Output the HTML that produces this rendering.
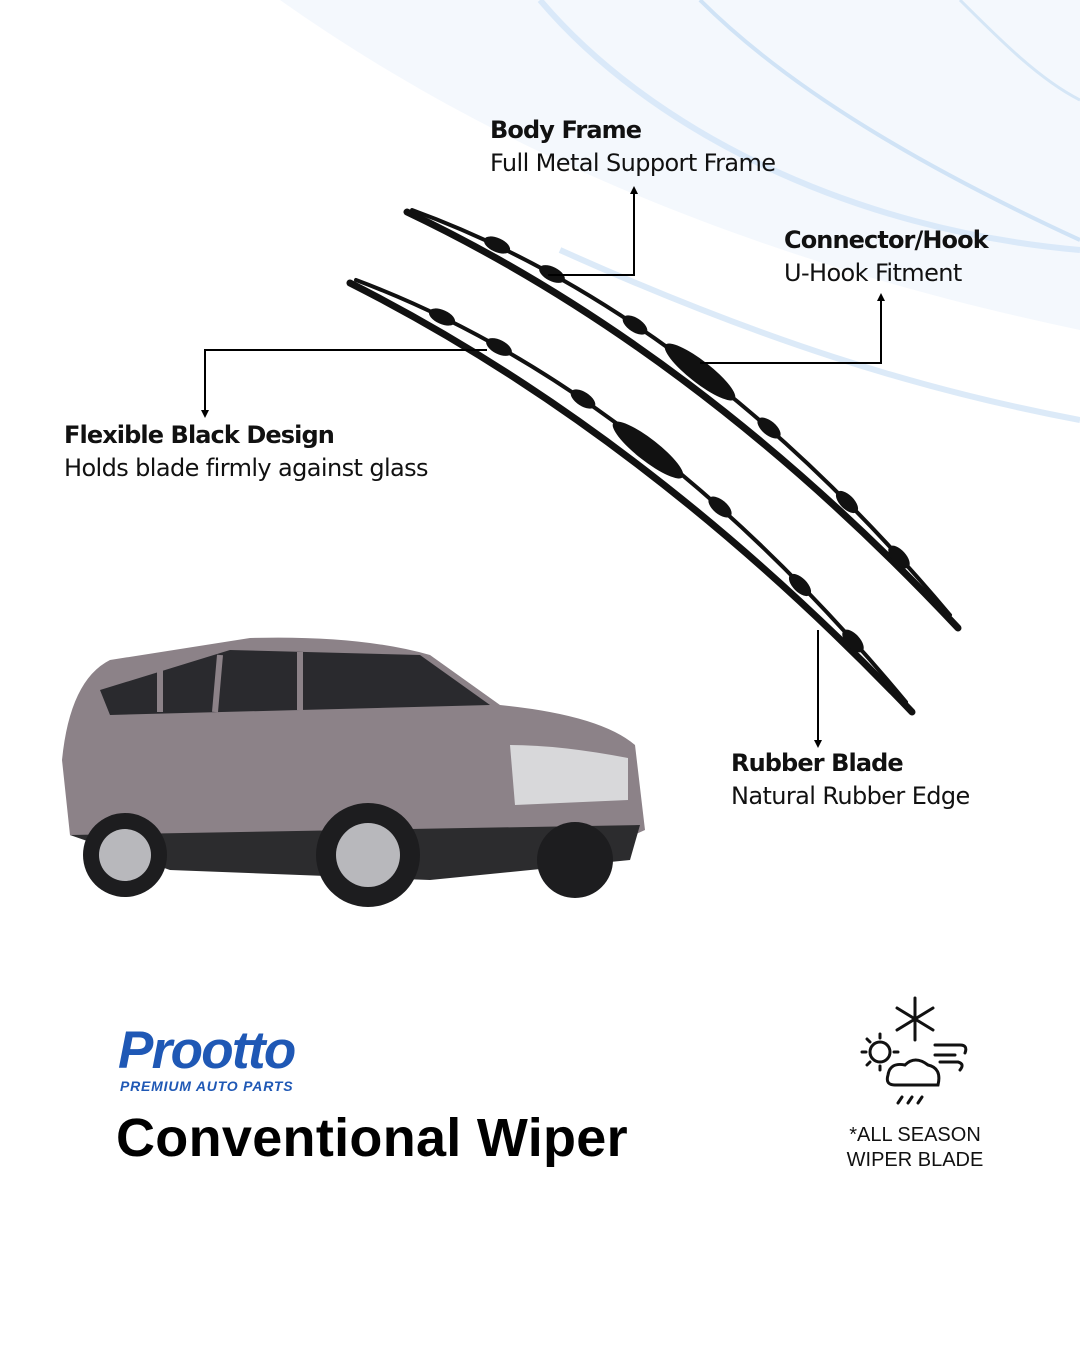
<!DOCTYPE html>
<html><head><meta charset="utf-8"><style>
body{margin:0;width:1080px;height:1350px;background:#fff;position:relative;overflow:hidden;font-family:"Liberation Sans","DejaVu Sans",sans-serif;color:#111}
.t{position:absolute;font-size:24px;line-height:33px;font-family:"DejaVu Sans","Liberation Sans",sans-serif;letter-spacing:-0.6px}
.t b{font-weight:bold;letter-spacing:-0.9px}
svg{position:absolute;left:0;top:0}
</style></head><body>
<svg width="1080" height="1350">
<path d="M280,0 C450,120 700,250 1080,330 L1080,0Z" fill="#f4f8fd"/>
<path d="M540,0 C650,130 850,230 1080,250" stroke="#c8e0f6" stroke-width="6" fill="none" opacity=".6"/>
<path d="M700,0 C800,100 950,180 1080,240" stroke="#b8d6f2" stroke-width="4" fill="none" opacity=".6"/>
<path d="M560,250 C760,340 920,390 1080,420" stroke="#c4dcf4" stroke-width="6" fill="none" opacity=".6"/>
<path d="M960,0 C1000,40 1040,80 1080,100" stroke="#c0daf2" stroke-width="3" fill="none" opacity=".6"/>
<!-- wipers -->
<g stroke="#111" fill="none" stroke-linecap="round">
<path d="M407,212 Q697,350 958,628" stroke-width="7"/>
<path d="M412,210 Q697,314 950,615" stroke-width="4"/>
<path d="M350,283 Q645,432 912,712" stroke-width="7"/>
<path d="M356,280 Q645,388 906,702" stroke-width="4"/>
</g>
<g fill="#111">
<ellipse cx="700" cy="372" rx="44" ry="11" transform="rotate(38 700 372)"/>
<ellipse cx="648" cy="450" rx="44" ry="11" transform="rotate(38 648 450)"/>
<ellipse cx="497" cy="245" rx="14" ry="7" transform="rotate(24 497 245)"/>
<ellipse cx="552" cy="274" rx="14" ry="7" transform="rotate(27 552 274)"/>
<ellipse cx="635" cy="325" rx="14" ry="7" transform="rotate(33 635 325)"/>
<ellipse cx="769" cy="428" rx="14" ry="7" transform="rotate(40 769 428)"/>
<ellipse cx="847" cy="502" rx="14" ry="7" transform="rotate(45 847 502)"/>
<ellipse cx="899" cy="557" rx="14" ry="7" transform="rotate(48 899 557)"/>
<ellipse cx="442" cy="317" rx="14" ry="7" transform="rotate(24 442 317)"/>
<ellipse cx="499" cy="347" rx="14" ry="7" transform="rotate(27 499 347)"/>
<ellipse cx="583" cy="399" rx="14" ry="7" transform="rotate(33 583 399)"/>
<ellipse cx="720" cy="507" rx="14" ry="7" transform="rotate(40 720 507)"/>
<ellipse cx="800" cy="585" rx="14" ry="7" transform="rotate(45 800 585)"/>
<ellipse cx="853" cy="641" rx="14" ry="7" transform="rotate(48 853 641)"/>
</g>
<!-- connectors -->
<g stroke="#000" stroke-width="2" fill="none">
<path d="M548,275 H634 V192"/>
<path d="M700,363 H881 V299"/>
<path d="M487,350 H205 V412"/>
<path d="M818,630 V742"/>
</g>
<g fill="#000">
<path d="M630,194 L634,186 L638,194Z"/>
<path d="M877,301 L881,293 L885,301Z"/>
<path d="M201,410 L205,418 L209,410Z"/>
<path d="M814,740 L818,748 L822,740Z"/>
</g>
<!-- car -->
<g>
<path d="M62,760 Q70,680 110,660 L250,638 Q360,635 430,655 L500,705 Q600,715 635,745 L645,830 L600,850 L430,870 L170,860 L70,835Z" fill="#8c8288"/>
<path d="M100,690 L230,650 L420,655 L490,705 L300,710 L110,715Z" fill="#2a2a2e"/>
<path d="M160,668 L160,712 M220,655 L215,712 M300,652 L300,710" stroke="#8c8288" stroke-width="6"/>
<path d="M510,745 Q560,745 628,758 L628,800 L515,805Z" fill="#d8d8da"/>
<path d="M70,835 L640,825 L630,860 L430,880 L170,870Z" fill="#2c2c2e"/>
<circle cx="125" cy="855" r="42" fill="#1d1d1f"/><circle cx="125" cy="855" r="26" fill="#b8b8bc"/>
<circle cx="368" cy="855" r="52" fill="#1d1d1f"/><circle cx="368" cy="855" r="32" fill="#b8b8bc"/>
<circle cx="575" cy="860" r="38" fill="#1d1d1f"/>
</g>
<!-- weather icon -->
<g stroke="#111" stroke-width="3" fill="none" stroke-linecap="round">
<path d="M915,998 V1040 M897,1008 L933,1030 M897,1030 L933,1008"/>
<circle cx="880" cy="1052" r="10"/>
<path d="M880,1034 V1038 M880,1066 V1070 M862,1052 H866 M894,1052 H898 M867,1039 L870,1042 M867,1065 L870,1062"/>
<path d="M895,1085 Q885,1085 888,1075 Q890,1062 905,1065 Q915,1055 928,1065 Q942,1068 938,1085Z"/>
<path d="M935,1045 H960 Q968,1045 965,1053 M935,1055 H955 M940,1062 H958 Q965,1064 960,1070"/>
<path d="M898,1103 L902,1097 M908,1103 L912,1097 M918,1103 L922,1097"/>
</g>
</svg>
<div class="t" style="left:490px;top:114px"><b>Body Frame</b><br>Full Metal Support Frame</div>
<div class="t" style="left:784px;top:224px"><b>Connector/Hook</b><br>U-Hook Fitment</div>
<div class="t" style="left:64px;top:419px"><b>Flexible Black Design</b><br>Holds blade firmly against glass</div>
<div class="t" style="left:731px;top:747px"><b>Rubber Blade</b><br>Natural Rubber Edge</div>
<div style="position:absolute;left:118px;top:1021px;font-size:53px;font-weight:bold;font-style:italic;color:#1f58b5;letter-spacing:-1.7px;line-height:60px">Prootto</div>
<div style="position:absolute;left:120px;top:1078px;font-size:14px;font-weight:bold;font-style:italic;color:#1f58b5;letter-spacing:0.8px">PREMIUM AUTO PARTS</div>
<div style="position:absolute;left:116px;top:1106px;font-size:54px;font-weight:bold;color:#000;line-height:64px;letter-spacing:0.3px">Conventional Wiper</div>
<div style="position:absolute;left:830px;top:1123px;width:170px;text-align:center;font-size:20px;line-height:25px;color:#111">*ALL SEASON<br>WIPER BLADE</div>
</body></html>
